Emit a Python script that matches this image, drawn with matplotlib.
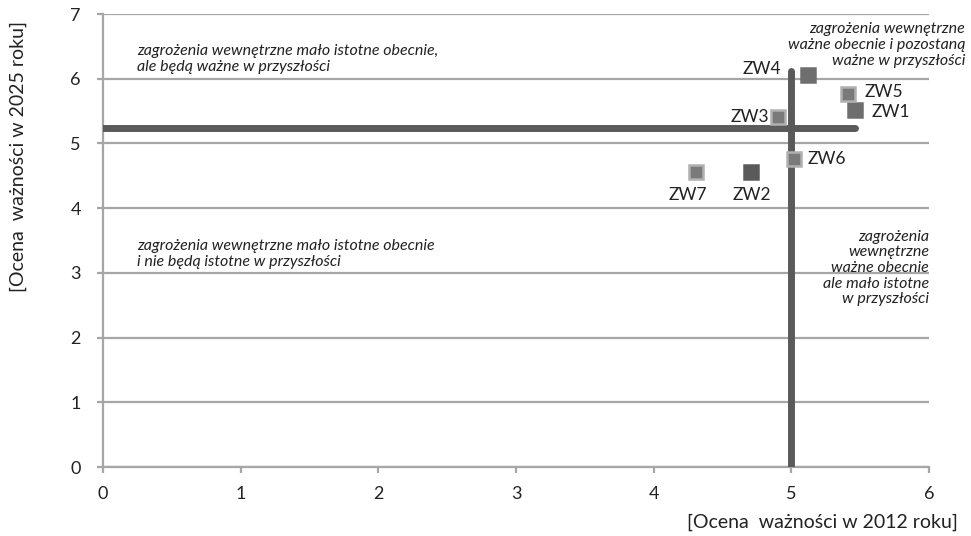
import matplotlib
matplotlib.use("Agg")
import matplotlib.pyplot as plt

plt.rcParams['font.family'] = ['Lato', 'DejaVu Sans']

labels = ["ZW1", "ZW2", "ZW3", "ZW4", "ZW5", "ZW6", "ZW7"]
x_2012 = [5.46, 4.71, 4.90, 5.12, 5.41, 5.02, 4.31]
y_2025 = [5.52, 4.56, 5.41, 6.06, 5.77, 4.76, 4.56]
face = ["#6e6e6e", "#5a5a5a", "#7a7a7a", "#6e6e6e", "#7a7a7a", "#7a7a7a", "#7a7a7a"]
edge = ["#6e6e6e", "#5a5a5a", "#b0b0b0", "#6e6e6e", "#b0b0b0", "#b0b0b0", "#b0b0b0"]
# label offsets (points) and alignment
lab_off = {"ZW1": (12, -1.5, "left", "center"), "ZW2": (0, -11, "center", "top"),
           "ZW3": (-6, 0, "right", "center"), "ZW4": (-19, 4, "right", "center"),
           "ZW5": (12, 1.5, "left", "center"), "ZW6": (10, 0, "left", "center"),
           "ZW7": (-6, -11, "center", "top")}

mean_x = 5.0
mean_y = 5.24
hline_end = 5.46
vline_end = 6.12

xticks = [0, 1, 2, 3, 4, 5, 6]
yticks = [0, 1, 2, 3, 4, 5, 6, 7]

fig = plt.figure(figsize=(9.71, 5.36), dpi=100)
ax = fig.add_axes([103/971, 1-467/536, (929-103)/971, (467-14)/536])
ax.set_xlim(0, 6)
ax.set_ylim(0, 7)
ax.set_xticks(xticks)
ax.set_yticks(yticks)
ax.yaxis.grid(True, color="#a6a6a6", linewidth=1.6)
ax.set_axisbelow(True)
for s in ["top", "right"]:
    ax.spines[s].set_visible(False)
for s in ["left", "bottom"]:
    ax.spines[s].set_color("#a6a6a6")
    ax.spines[s].set_linewidth(1.6)
ax.tick_params(axis="both", colors="#a6a6a6", length=4, width=1.6, labelcolor="#222222",
               labelsize=13)
ax.tick_params(axis="x", pad=10)
ax.tick_params(axis="y", pad=12)

ax.plot([0, hline_end], [mean_y, mean_y], color="#5a5a5a", linewidth=5, solid_capstyle="round", zorder=3)
ax.plot([mean_x, mean_x], [0, vline_end], color="#5a5a5a", linewidth=5, solid_capstyle="round", zorder=3)

for i, lab in enumerate(labels):
    ax.plot(x_2012[i], y_2025[i], marker="s", markersize=10, markerfacecolor=face[i],
            markeredgecolor=edge[i], markeredgewidth=1.8, linestyle="none", zorder=4)
    dx, dy, ha, va = lab_off[lab]
    ax.annotate(lab, (x_2012[i], y_2025[i]), xytext=(dx, dy), textcoords="offset points",
                ha=ha, va=va, fontsize=12.5, color="#222222", zorder=5)

ifont = dict(fontsize=11.5, style="italic", color="#222222")
fig.text(137/971, 1-59/536, "zagrożenia wewnętrzne mało istotne obecnie,\nale będą ważne w przyszłości",
         ha="left", va="center", linespacing=1.25, **ifont)
fig.text(965/971, 1-45/536, "zagrożenia wewnętrzne\nważne obecnie i pozostaną\nważne w przyszłości",
         ha="right", va="center", linespacing=1.2, **ifont)
fig.text(137/971, 1-254/536, "zagrożenia wewnętrzne mało istotne obecnie\ni nie będą istotne w przyszłości",
         ha="left", va="center", linespacing=1.25, **ifont)
fig.text(929/971, 1-268/536, "zagrożenia\nwewnętrzne\nważne obecnie\nale mało istotne\nw przyszłości",
         ha="right", va="center", linespacing=1.15, **ifont)

fig.text(958/971, 1-522/536, "[Ocena  ważności w 2012 roku]", ha="right", va="center",
         fontsize=14, color="#222222")
fig.text(18/971, 1-156/536, "[Ocena  ważności w 2025 roku]", ha="center", va="center",
         rotation=90, fontsize=14, color="#222222")

fig.savefig("out.png", dpi=100)
